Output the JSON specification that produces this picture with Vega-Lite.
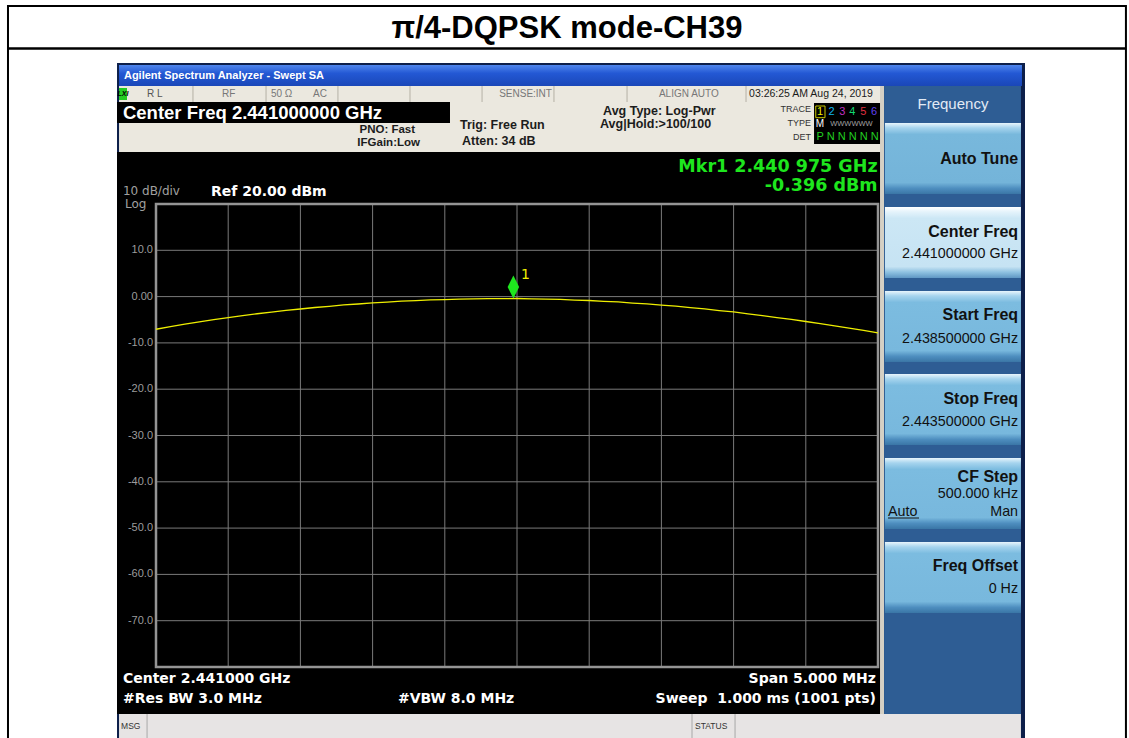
{
"$schema": "https://vega.github.io/schema/vega-lite/v6.json",
"width": 722, "height": 463,
"autosize": {"type": "none"},
"padding": {"left": 156, "top": 204, "right": 251, "bottom": 71},
"background": "white",
"config": {"view": {"stroke": null}},
"datasets": {
"one": [{"k": 0}],
"trace": [
{"freq_MHz": 2438.5, "dBm": -7.05},{"freq_MHz": 2438.6, "dBm": -6.50},{"freq_MHz": 2438.7, "dBm": -5.95},{"freq_MHz": 2438.8, "dBm": -5.46},{"freq_MHz": 2438.9, "dBm": -4.99},
{"freq_MHz": 2439.0, "dBm": -4.56},{"freq_MHz": 2439.1, "dBm": -4.12},{"freq_MHz": 2439.2, "dBm": -3.70},{"freq_MHz": 2439.3, "dBm": -3.36},{"freq_MHz": 2439.4, "dBm": -2.97},
{"freq_MHz": 2439.5, "dBm": -2.68},{"freq_MHz": 2439.6, "dBm": -2.35},{"freq_MHz": 2439.7, "dBm": -2.09},{"freq_MHz": 2439.8, "dBm": -1.80},{"freq_MHz": 2439.9, "dBm": -1.60},
{"freq_MHz": 2440.0, "dBm": -1.36},{"freq_MHz": 2440.1, "dBm": -1.19},{"freq_MHz": 2440.2, "dBm": -0.98},{"freq_MHz": 2440.3, "dBm": -0.87},{"freq_MHz": 2440.4, "dBm": -0.71},
{"freq_MHz": 2440.5, "dBm": -0.64},{"freq_MHz": 2440.6, "dBm": -0.53},{"freq_MHz": 2440.7, "dBm": -0.51},{"freq_MHz": 2440.8, "dBm": -0.44},{"freq_MHz": 2440.9, "dBm": -0.43},
{"freq_MHz": 2441.0, "dBm": -0.41},{"freq_MHz": 2441.1, "dBm": -0.49},{"freq_MHz": 2441.2, "dBm": -0.56},{"freq_MHz": 2441.3, "dBm": -0.61},{"freq_MHz": 2441.4, "dBm": -0.74},
{"freq_MHz": 2441.5, "dBm": -0.84},{"freq_MHz": 2441.6, "dBm": -1.02},{"freq_MHz": 2441.7, "dBm": -1.15},{"freq_MHz": 2441.8, "dBm": -1.39},{"freq_MHz": 2441.9, "dBm": -1.57},
{"freq_MHz": 2442.0, "dBm": -1.83},{"freq_MHz": 2442.1, "dBm": -2.06},{"freq_MHz": 2442.2, "dBm": -2.38},{"freq_MHz": 2442.3, "dBm": -2.64},{"freq_MHz": 2442.4, "dBm": -3.01},
{"freq_MHz": 2442.5, "dBm": -3.32},{"freq_MHz": 2442.6, "dBm": -3.74},{"freq_MHz": 2442.7, "dBm": -4.09},{"freq_MHz": 2442.8, "dBm": -4.52},{"freq_MHz": 2442.9, "dBm": -4.93},
{"freq_MHz": 2443.0, "dBm": -5.38},{"freq_MHz": 2443.1, "dBm": -5.84},{"freq_MHz": 2443.2, "dBm": -6.33},{"freq_MHz": 2443.3, "dBm": -6.82},{"freq_MHz": 2443.4, "dBm": -7.30},
{"freq_MHz": 2443.5, "dBm": -7.82}
],
"vgrid": [{"freq_MHz": 2439.0},{"freq_MHz": 2439.5},{"freq_MHz": 2440.0},{"freq_MHz": 2440.5},{"freq_MHz": 2441.0},{"freq_MHz": 2441.5},{"freq_MHz": 2442.0},{"freq_MHz": 2442.5},{"freq_MHz": 2443.0}],
"hgrid": [{"dBm": 10, "label": "10.0"},{"dBm": 0, "label": "0.00"},{"dBm": -10, "label": "-10.0"},{"dBm": -20, "label": "-20.0"},{"dBm": -30, "label": "-30.0"},{"dBm": -40, "label": "-40.0"},{"dBm": -50, "label": "-50.0"},{"dBm": -60, "label": "-60.0"},{"dBm": -70, "label": "-70.0"}],
"marker": [{"marker": "1", "freq_MHz": 2440.975, "dBm": -0.396}]
},
"layer": [
{"data":{"name":"one"},"mark":{"type":"rect","fillOpacity":0,"stroke":"#000000","strokeWidth":2},"encoding":{"x":{"datum":2437.475,"type":"quantitative","axis":null},"x2":{"datum":2445.217},"y":{"datum":62.765,"type":"quantitative","axis":null},"y2":{"datum":-100.086}}},
{"data":{"name":"one"},"mark":{"type":"rule","stroke":"#000000","strokeWidth":2.5},"encoding":{"x":{"datum":2437.475,"type":"quantitative","axis":null},"x2":{"datum":2445.217},"y":{"datum":53.585,"type":"quantitative","axis":null}}},
{"data":{"name":"one"},"mark":{"type":"text","text":"π/4-DQPSK mode-CH39","align":"center","baseline":"middle","font":"Liberation Sans","fontSize":31,"fontWeight":"bold","fill":"#000000"},"encoding":{"x":{"datum":2441.346,"type":"quantitative","axis":null},"y":{"datum":57.689,"type":"quantitative","axis":null}}},

{"data":{"name":"one"},"mark":{"type":"rect","fill":"#0d1f4a"},"encoding":{"x":{"datum":2438.230,"type":"quantitative","axis":null},"x2":{"datum":2444.518},"y":{"datum":50.454,"type":"quantitative","axis":null},"y2":{"datum":-95.335}}},
{"data":{"name":"one"},"mark":{"type":"rect","fill":{"gradient":"linear","x1":0,"y1":0,"x2":0,"y2":1,"stops":[{"offset":0,"color":"#4f86ec"},{"offset":0.4,"color":"#2358d4"},{"offset":1,"color":"#1a47b8"}]}},"encoding":{"x":{"datum":2438.244,"type":"quantitative","axis":null},"x2":{"datum":2444.497},"y":{"datum":50.022,"type":"quantitative","axis":null},"y2":{"datum":45.486}}},
{"data":{"name":"one"},"mark":{"type":"text","text":"Agilent Spectrum Analyzer - Swept SA","align":"left","baseline":"middle","font":"Liberation Sans","fontSize":11,"fontWeight":"bold","fill":"#ffffff"},"encoding":{"x":{"datum":2438.278,"type":"quantitative","axis":null},"y":{"datum":47.646,"type":"quantitative","axis":null}}},
{"data":{"name":"one"},"mark":{"type":"rect","fill":"#ebe8df"},"encoding":{"x":{"datum":2438.244,"type":"quantitative","axis":null},"x2":{"datum":2443.542},"y":{"datum":45.486,"type":"quantitative","axis":null},"y2":{"datum":31.231}}},

{"data":{"name":"one"},"mark":{"type":"rule","stroke":"#b5b1a6","strokeWidth":1},"encoding":{"x":{"datum":2438.756,"type":"quantitative","axis":null},"y":{"datum":45.486,"type":"quantitative","axis":null},"y2":{"datum":42.030}}},
{"data":{"name":"one"},"mark":{"type":"rule","stroke":"#b5b1a6","strokeWidth":1},"encoding":{"x":{"datum":2439.262,"type":"quantitative","axis":null},"y":{"datum":45.486,"type":"quantitative","axis":null},"y2":{"datum":42.030}}},
{"data":{"name":"one"},"mark":{"type":"rule","stroke":"#b5b1a6","strokeWidth":1},"encoding":{"x":{"datum":2439.760,"type":"quantitative","axis":null},"y":{"datum":45.486,"type":"quantitative","axis":null},"y2":{"datum":42.030}}},
{"data":{"name":"one"},"mark":{"type":"rule","stroke":"#b5b1a6","strokeWidth":1},"encoding":{"x":{"datum":2440.259,"type":"quantitative","axis":null},"y":{"datum":45.486,"type":"quantitative","axis":null},"y2":{"datum":42.030}}},
{"data":{"name":"one"},"mark":{"type":"rule","stroke":"#b5b1a6","strokeWidth":1},"encoding":{"x":{"datum":2440.758,"type":"quantitative","axis":null},"y":{"datum":45.486,"type":"quantitative","axis":null},"y2":{"datum":42.030}}},
{"data":{"name":"one"},"mark":{"type":"rule","stroke":"#b5b1a6","strokeWidth":1},"encoding":{"x":{"datum":2441.256,"type":"quantitative","axis":null},"y":{"datum":45.486,"type":"quantitative","axis":null},"y2":{"datum":42.030}}},
{"data":{"name":"one"},"mark":{"type":"rule","stroke":"#b5b1a6","strokeWidth":1},"encoding":{"x":{"datum":2441.762,"type":"quantitative","axis":null},"y":{"datum":45.486,"type":"quantitative","axis":null},"y2":{"datum":42.030}}},
{"data":{"name":"one"},"mark":{"type":"rule","stroke":"#b5b1a6","strokeWidth":1},"encoding":{"x":{"datum":2442.586,"type":"quantitative","axis":null},"y":{"datum":45.486,"type":"quantitative","axis":null},"y2":{"datum":42.030}}},

{"data":{"name":"one"},"mark":{"type":"rect","fill":"#22cc22"},"encoding":{"x":{"datum":2438.244,"type":"quantitative","axis":null},"x2":{"datum":2438.299},"y":{"datum":45.054,"type":"quantitative","axis":null},"y2":{"datum":42.462}}},
{"data":{"name":"one"},"mark":{"type":"text","text":"LXI","align":"center","baseline":"middle","font":"Liberation Sans","fontSize":7,"fontWeight":"bold","fontStyle":"italic","fill":"#000000"},"encoding":{"x":{"datum":2438.271,"type":"quantitative","axis":null},"y":{"datum":43.758,"type":"quantitative","axis":null}}},
{"data":{"name":"one"},"mark":{"type":"text","text":"R L","align":"left","baseline":"middle","font":"Liberation Sans","fontSize":10,"fill":"#555555"},"encoding":{"x":{"datum":2438.438,"type":"quantitative","axis":null},"y":{"datum":43.758,"type":"quantitative","axis":null}}},
{"data":{"name":"one"},"mark":{"type":"text","text":"RF","align":"left","baseline":"middle","font":"Liberation Sans","fontSize":10,"fill":"#777777"},"encoding":{"x":{"datum":2438.957,"type":"quantitative","axis":null},"y":{"datum":43.758,"type":"quantitative","axis":null}}},
{"data":{"name":"one"},"mark":{"type":"text","text":"50 Ω","align":"left","baseline":"middle","font":"Liberation Sans","fontSize":10,"fill":"#777777"},"encoding":{"x":{"datum":2439.296,"type":"quantitative","axis":null},"y":{"datum":43.758,"type":"quantitative","axis":null}}},
{"data":{"name":"one"},"mark":{"type":"text","text":"AC","align":"left","baseline":"middle","font":"Liberation Sans","fontSize":10,"fill":"#777777"},"encoding":{"x":{"datum":2439.587,"type":"quantitative","axis":null},"y":{"datum":43.758,"type":"quantitative","axis":null}}},
{"data":{"name":"one"},"mark":{"type":"text","text":"SENSE:INT","align":"right","baseline":"middle","font":"Liberation Sans","fontSize":10,"fill":"#777777"},"encoding":{"x":{"datum":2441.242,"type":"quantitative","axis":null},"y":{"datum":43.758,"type":"quantitative","axis":null}}},
{"data":{"name":"one"},"mark":{"type":"text","text":"ALIGN AUTO","align":"left","baseline":"middle","font":"Liberation Sans","fontSize":10,"fill":"#777777"},"encoding":{"x":{"datum":2441.983,"type":"quantitative","axis":null},"y":{"datum":43.758,"type":"quantitative","axis":null}}},
{"data":{"name":"one"},"mark":{"type":"text","text":"03:26:25 AM Aug 24, 2019","align":"left","baseline":"middle","font":"Liberation Sans","fontSize":10.5,"fill":"#1a1a1a"},"encoding":{"x":{"datum":2442.607,"type":"quantitative","axis":null},"y":{"datum":43.758,"type":"quantitative","axis":null}}},

{"data":{"name":"one"},"mark":{"type":"rect","fill":"#000000"},"encoding":{"x":{"datum":2438.230,"type":"quantitative","axis":null},"x2":{"datum":2440.536},"y":{"datum":42.030,"type":"quantitative","axis":null},"y2":{"datum":37.495}}},
{"data":{"name":"one"},"mark":{"type":"text","text":"Center Freq 2.441000000 GHz","align":"left","baseline":"middle","font":"Liberation Sans","fontSize":18.5,"fontWeight":"bold","fill":"#ffffff"},"encoding":{"x":{"datum":2438.271,"type":"quantitative","axis":null},"y":{"datum":39.762,"type":"quantitative","axis":null}}},
{"data":{"name":"one"},"mark":{"type":"text","text":"PNO: Fast","align":"right","baseline":"middle","font":"Liberation Sans","fontSize":11.5,"fontWeight":"bold","fill":"#1c1c1c"},"encoding":{"x":{"datum":2440.294,"type":"quantitative","axis":null},"y":{"datum":35.983,"type":"quantitative","axis":null}}},
{"data":{"name":"one"},"mark":{"type":"text","text":"IFGain:Low","align":"right","baseline":"middle","font":"Liberation Sans","fontSize":11.5,"fontWeight":"bold","fill":"#1c1c1c"},"encoding":{"x":{"datum":2440.328,"type":"quantitative","axis":null},"y":{"datum":33.175,"type":"quantitative","axis":null}}},
{"data":{"name":"one"},"mark":{"type":"text","text":"Trig: Free Run","align":"left","baseline":"middle","font":"Liberation Sans","fontSize":12.5,"fontWeight":"bold","fill":"#1c1c1c"},"encoding":{"x":{"datum":2440.605,"type":"quantitative","axis":null},"y":{"datum":37.063,"type":"quantitative","axis":null}}},
{"data":{"name":"one"},"mark":{"type":"text","text":"Atten: 34 dB","align":"left","baseline":"middle","font":"Liberation Sans","fontSize":12.5,"fontWeight":"bold","fill":"#1c1c1c"},"encoding":{"x":{"datum":2440.619,"type":"quantitative","axis":null},"y":{"datum":33.607,"type":"quantitative","axis":null}}},
{"data":{"name":"one"},"mark":{"type":"text","text":"Avg Type: Log-Pwr","align":"left","baseline":"middle","font":"Liberation Sans","fontSize":12.5,"fontWeight":"bold","fill":"#1c1c1c"},"encoding":{"x":{"datum":2441.596,"type":"quantitative","axis":null},"y":{"datum":40.151,"type":"quantitative","axis":null}}},
{"data":{"name":"one"},"mark":{"type":"text","text":"Avg|Hold:>100/100","align":"left","baseline":"middle","font":"Liberation Sans","fontSize":12.5,"fontWeight":"bold","fill":"#1c1c1c"},"encoding":{"x":{"datum":2441.575,"type":"quantitative","axis":null},"y":{"datum":37.279,"type":"quantitative","axis":null}}},
{"data":{"name":"one"},"mark":{"type":"text","text":"TRACE","align":"right","baseline":"middle","font":"Liberation Sans","fontSize":9,"fill":"#333333"},"encoding":{"x":{"datum":2443.036,"type":"quantitative","axis":null},"y":{"datum":40.454,"type":"quantitative","axis":null}}},
{"data":{"name":"one"},"mark":{"type":"text","text":"TYPE","align":"right","baseline":"middle","font":"Liberation Sans","fontSize":9,"fill":"#333333"},"encoding":{"x":{"datum":2443.036,"type":"quantitative","axis":null},"y":{"datum":37.430,"type":"quantitative","axis":null}}},
{"data":{"name":"one"},"mark":{"type":"text","text":"DET","align":"right","baseline":"middle","font":"Liberation Sans","fontSize":9,"fill":"#333333"},"encoding":{"x":{"datum":2443.036,"type":"quantitative","axis":null},"y":{"datum":34.406,"type":"quantitative","axis":null}}},
{"data":{"name":"one"},"mark":{"type":"rect","fill":"#000000"},"encoding":{"x":{"datum":2443.057,"type":"quantitative","axis":null},"x2":{"datum":2443.521},"y":{"datum":41.814,"type":"quantitative","axis":null},"y2":{"datum":32.959}}},
{"data":{"name":"one"},"mark":{"type":"rect","fillOpacity":0,"stroke":"#c8c800","strokeWidth":1},"encoding":{"x":{"datum":2443.069,"type":"quantitative","axis":null},"x2":{"datum":2443.133},"y":{"datum":41.166,"type":"quantitative","axis":null},"y2":{"datum":38.639}}},
{"data":{"name":"one"},"mark":{"type":"text","text":"1","align":"center","baseline":"middle","font":"Liberation Sans","fontSize":11,"fill":"#f0f000"},"encoding":{"x":{"datum":2443.098,"type":"quantitative","axis":null},"y":{"datum":39.806,"type":"quantitative","axis":null}}},
{"data":{"name":"one"},"mark":{"type":"text","text":"2","align":"center","baseline":"middle","font":"Liberation Sans","fontSize":11,"fill":"#10b8f0"},"encoding":{"x":{"datum":2443.179,"type":"quantitative","axis":null},"y":{"datum":39.806,"type":"quantitative","axis":null}}},
{"data":{"name":"one"},"mark":{"type":"text","text":"3","align":"center","baseline":"middle","font":"Liberation Sans","fontSize":11,"fill":"#c030c0"},"encoding":{"x":{"datum":2443.253,"type":"quantitative","axis":null},"y":{"datum":39.806,"type":"quantitative","axis":null}}},
{"data":{"name":"one"},"mark":{"type":"text","text":"4","align":"center","baseline":"middle","font":"Liberation Sans","fontSize":11,"fill":"#10d870"},"encoding":{"x":{"datum":2443.322,"type":"quantitative","axis":null},"y":{"datum":39.806,"type":"quantitative","axis":null}}},
{"data":{"name":"one"},"mark":{"type":"text","text":"5","align":"center","baseline":"middle","font":"Liberation Sans","fontSize":11,"fill":"#e03040"},"encoding":{"x":{"datum":2443.398,"type":"quantitative","axis":null},"y":{"datum":39.806,"type":"quantitative","axis":null}}},
{"data":{"name":"one"},"mark":{"type":"text","text":"6","align":"center","baseline":"middle","font":"Liberation Sans","fontSize":11,"fill":"#6040f0"},"encoding":{"x":{"datum":2443.472,"type":"quantitative","axis":null},"y":{"datum":39.806,"type":"quantitative","axis":null}}},
{"data":{"name":"one"},"mark":{"type":"text","text":"M","align":"center","baseline":"middle","font":"Liberation Sans","fontSize":10,"fill":"#ffffff"},"encoding":{"x":{"datum":2443.098,"type":"quantitative","axis":null},"y":{"datum":37.200,"type":"quantitative","axis":null}}},
{"data":{"name":"one"},"mark":{"type":"text","text":"WWWWWW","align":"center","baseline":"middle","font":"Liberation Sans","fontSize":7.5,"fill":"#a0a0a0"},"encoding":{"x":{"datum":2443.316,"type":"quantitative","axis":null},"y":{"datum":37.300,"type":"quantitative","axis":null}}},
{"data":{"name":"one"},"mark":{"type":"text","text":"P N N N N N","align":"center","baseline":"middle","font":"Liberation Sans","fontSize":11,"fill":"#20d020"},"encoding":{"x":{"datum":2443.289,"type":"quantitative","axis":null},"y":{"datum":34.406,"type":"quantitative","axis":null}}},

{"data":{"name":"one"},"mark":{"type":"rect","fill":"#000000"},"encoding":{"x":{"datum":2438.230,"type":"quantitative","axis":null},"x2":{"datum":2443.514},"y":{"datum":31.231,"type":"quantitative","axis":null},"y2":{"datum":-90.151}}},
{"data":{"name":"one"},"mark":{"type":"rect","fill":"#d5d0c4"},"encoding":{"x":{"datum":2443.514,"type":"quantitative","axis":null},"x2":{"datum":2443.542},"y":{"datum":45.486,"type":"quantitative","axis":null},"y2":{"datum":-90.151}}},
{"data":{"name":"one"},"mark":{"type":"rect","fill":"#2e5d94"},"encoding":{"x":{"datum":2443.542,"type":"quantitative","axis":null},"x2":{"datum":2444.490},"y":{"datum":45.486,"type":"quantitative","axis":null},"y2":{"datum":-90.151}}},
{"data":{"name":"one"},"mark":{"type":"text","text":"Frequency","align":"center","baseline":"middle","font":"Liberation Sans","fontSize":15,"fill":"#e2eaf4"},"encoding":{"x":{"datum":2444.019,"type":"quantitative","axis":null},"y":{"datum":41.598,"type":"quantitative","axis":null}}},

{"data":{"name":"one"},"mark":{"type":"rect","fill":{"gradient":"linear","x1":0,"y1":0,"x2":0,"y2":1,"stops":[{"offset":0,"color":"#e8f5fc"},{"offset":0.07,"color":"#a6d4ee"},{"offset":0.16,"color":"#78b8dc"},{"offset":0.84,"color":"#74b4d9"},{"offset":0.92,"color":"#4e8ebf"},{"offset":1,"color":"#3a76a6"}]}},"encoding":{"x":{"datum":2443.548,"type":"quantitative","axis":null},"x2":{"datum":2444.490},"y":{"datum":37.495,"type":"quantitative","axis":null},"y2":{"datum":22.160}}},
{"data":{"name":"one"},"mark":{"type":"rect","fill":{"gradient":"linear","x1":0,"y1":0,"x2":0,"y2":1,"stops":[{"offset":0,"color":"#ffffff"},{"offset":0.07,"color":"#e4f3fb"},{"offset":0.16,"color":"#cce7f5"},{"offset":0.84,"color":"#c6e3f3"},{"offset":0.92,"color":"#8dc0e0"},{"offset":1,"color":"#5f97c4"}]}},"encoding":{"x":{"datum":2443.548,"type":"quantitative","axis":null},"x2":{"datum":2444.490},"y":{"datum":19.352,"type":"quantitative","axis":null},"y2":{"datum":4.017}}},
{"data":{"name":"one"},"mark":{"type":"rect","fill":{"gradient":"linear","x1":0,"y1":0,"x2":0,"y2":1,"stops":[{"offset":0,"color":"#e8f5fc"},{"offset":0.07,"color":"#a6d4ee"},{"offset":0.16,"color":"#7cbce0"},{"offset":0.84,"color":"#78b8dd"},{"offset":0.92,"color":"#4e8ebf"},{"offset":1,"color":"#3a76a6"}]}},"encoding":{"x":{"datum":2443.548,"type":"quantitative","axis":null},"x2":{"datum":2444.490},"y":{"datum":1.210,"type":"quantitative","axis":null},"y2":{"datum":-14.125}}},
{"data":{"name":"one"},"mark":{"type":"rect","fill":{"gradient":"linear","x1":0,"y1":0,"x2":0,"y2":1,"stops":[{"offset":0,"color":"#e8f5fc"},{"offset":0.07,"color":"#a6d4ee"},{"offset":0.16,"color":"#7cbce0"},{"offset":0.84,"color":"#78b8dd"},{"offset":0.92,"color":"#4e8ebf"},{"offset":1,"color":"#3a76a6"}]}},"encoding":{"x":{"datum":2443.548,"type":"quantitative","axis":null},"x2":{"datum":2444.490},"y":{"datum":-16.717,"type":"quantitative","axis":null},"y2":{"datum":-32.052}}},
{"data":{"name":"one"},"mark":{"type":"rect","fill":{"gradient":"linear","x1":0,"y1":0,"x2":0,"y2":1,"stops":[{"offset":0,"color":"#e8f5fc"},{"offset":0.07,"color":"#a6d4ee"},{"offset":0.16,"color":"#7cbce0"},{"offset":0.84,"color":"#78b8dd"},{"offset":0.92,"color":"#4e8ebf"},{"offset":1,"color":"#3a76a6"}]}},"encoding":{"x":{"datum":2443.548,"type":"quantitative","axis":null},"x2":{"datum":2444.490},"y":{"datum":-34.860,"type":"quantitative","axis":null},"y2":{"datum":-50.194}}},
{"data":{"name":"one"},"mark":{"type":"rect","fill":{"gradient":"linear","x1":0,"y1":0,"x2":0,"y2":1,"stops":[{"offset":0,"color":"#e8f5fc"},{"offset":0.07,"color":"#a6d4ee"},{"offset":0.16,"color":"#7cbce0"},{"offset":0.84,"color":"#78b8dd"},{"offset":0.92,"color":"#4e8ebf"},{"offset":1,"color":"#3a76a6"}]}},"encoding":{"x":{"datum":2443.548,"type":"quantitative","axis":null},"x2":{"datum":2444.490},"y":{"datum":-53.002,"type":"quantitative","axis":null},"y2":{"datum":-68.337}}},

{"data":{"name":"one"},"mark":{"type":"text","text":"Auto Tune","align":"right","baseline":"middle","font":"Liberation Sans","fontSize":16,"fontWeight":"bold","fill":"#111111"},"encoding":{"x":{"datum":2444.470,"type":"quantitative","axis":null},"y":{"datum":29.719,"type":"quantitative","axis":null}}},
{"data":{"name":"one"},"mark":{"type":"text","text":"Center Freq","align":"right","baseline":"middle","font":"Liberation Sans","fontSize":16,"fontWeight":"bold","fill":"#111111"},"encoding":{"x":{"datum":2444.470,"type":"quantitative","axis":null},"y":{"datum":14.017,"type":"quantitative","axis":null}}},
{"data":{"name":"one"},"mark":{"type":"text","text":"2.441000000 GHz","align":"right","baseline":"middle","font":"Liberation Sans","fontSize":14.3,"fill":"#111111"},"encoding":{"x":{"datum":2444.470,"type":"quantitative","axis":null},"y":{"datum":9.201,"type":"quantitative","axis":null}}},
{"data":{"name":"one"},"mark":{"type":"text","text":"Start Freq","align":"right","baseline":"middle","font":"Liberation Sans","fontSize":16,"fontWeight":"bold","fill":"#111111"},"encoding":{"x":{"datum":2444.470,"type":"quantitative","axis":null},"y":{"datum":-3.974,"type":"quantitative","axis":null}}},
{"data":{"name":"one"},"mark":{"type":"text","text":"2.438500000 GHz","align":"right","baseline":"middle","font":"Liberation Sans","fontSize":14.3,"fill":"#111111"},"encoding":{"x":{"datum":2444.470,"type":"quantitative","axis":null},"y":{"datum":-9.158,"type":"quantitative","axis":null}}},
{"data":{"name":"one"},"mark":{"type":"text","text":"Stop Freq","align":"right","baseline":"middle","font":"Liberation Sans","fontSize":16,"fontWeight":"bold","fill":"#111111"},"encoding":{"x":{"datum":2444.470,"type":"quantitative","axis":null},"y":{"datum":-22.117,"type":"quantitative","axis":null}}},
{"data":{"name":"one"},"mark":{"type":"text","text":"2.443500000 GHz","align":"right","baseline":"middle","font":"Liberation Sans","fontSize":14.3,"fill":"#111111"},"encoding":{"x":{"datum":2444.470,"type":"quantitative","axis":null},"y":{"datum":-27.084,"type":"quantitative","axis":null}}},
{"data":{"name":"one"},"mark":{"type":"text","text":"CF Step","align":"right","baseline":"middle","font":"Liberation Sans","fontSize":16,"fontWeight":"bold","fill":"#111111"},"encoding":{"x":{"datum":2444.470,"type":"quantitative","axis":null},"y":{"datum":-38.963,"type":"quantitative","axis":null}}},
{"data":{"name":"one"},"mark":{"type":"text","text":"500.000 kHz","align":"right","baseline":"middle","font":"Liberation Sans","fontSize":14.3,"fill":"#111111"},"encoding":{"x":{"datum":2444.470,"type":"quantitative","axis":null},"y":{"datum":-42.635,"type":"quantitative","axis":null}}},
{"data":{"name":"one"},"mark":{"type":"text","text":"Man","align":"right","baseline":"middle","font":"Liberation Sans","fontSize":14.3,"fill":"#111111"},"encoding":{"x":{"datum":2444.470,"type":"quantitative","axis":null},"y":{"datum":-46.523,"type":"quantitative","axis":null}}},
{"data":{"name":"one"},"mark":{"type":"text","text":"Auto","align":"left","baseline":"middle","font":"Liberation Sans","fontSize":14.3,"fill":"#111111"},"encoding":{"x":{"datum":2443.569,"type":"quantitative","axis":null},"y":{"datum":-46.523,"type":"quantitative","axis":null}}},
{"data":{"name":"one"},"mark":{"type":"rule","stroke":"#111111","strokeWidth":1.2},"encoding":{"x":{"datum":2443.569,"type":"quantitative","axis":null},"x2":{"datum":2443.784},"y":{"datum":-47.819,"type":"quantitative","axis":null}}},
{"data":{"name":"one"},"mark":{"type":"text","text":"Freq Offset","align":"right","baseline":"middle","font":"Liberation Sans","fontSize":16,"fontWeight":"bold","fill":"#111111"},"encoding":{"x":{"datum":2444.470,"type":"quantitative","axis":null},"y":{"datum":-58.186,"type":"quantitative","axis":null}}},
{"data":{"name":"one"},"mark":{"type":"text","text":"0 Hz","align":"right","baseline":"middle","font":"Liberation Sans","fontSize":14.3,"fill":"#111111"},"encoding":{"x":{"datum":2444.470,"type":"quantitative","axis":null},"y":{"datum":-63.153,"type":"quantitative","axis":null}}},

{"data":{"name":"one"},"mark":{"type":"rect","fill":"#e7e4e4"},"encoding":{"x":{"datum":2438.244,"type":"quantitative","axis":null},"x2":{"datum":2444.490},"y":{"datum":-90.151,"type":"quantitative","axis":null},"y2":{"datum":-95.335}}},
{"data":{"name":"one"},"mark":{"type":"rule","stroke":"#a8a8a8","strokeWidth":1},"encoding":{"x":{"datum":2438.438,"type":"quantitative","axis":null},"y":{"datum":-90.151,"type":"quantitative","axis":null},"y2":{"datum":-95.335}}},
{"data":{"name":"one"},"mark":{"type":"rule","stroke":"#a8a8a8","strokeWidth":1},"encoding":{"x":{"datum":2442.212,"type":"quantitative","axis":null},"y":{"datum":-90.151,"type":"quantitative","axis":null},"y2":{"datum":-95.335}}},
{"data":{"name":"one"},"mark":{"type":"rule","stroke":"#a8a8a8","strokeWidth":1},"encoding":{"x":{"datum":2442.510,"type":"quantitative","axis":null},"y":{"datum":-90.151,"type":"quantitative","axis":null},"y2":{"datum":-95.335}}},
{"data":{"name":"one"},"mark":{"type":"text","text":"MSG","align":"left","baseline":"middle","font":"Liberation Sans","fontSize":8.5,"fill":"#333333"},"encoding":{"x":{"datum":2438.258,"type":"quantitative","axis":null},"y":{"datum":-92.743,"type":"quantitative","axis":null}}},
{"data":{"name":"one"},"mark":{"type":"text","text":"STATUS","align":"left","baseline":"middle","font":"Liberation Sans","fontSize":8.5,"fill":"#333333"},"encoding":{"x":{"datum":2442.233,"type":"quantitative","axis":null},"y":{"datum":-92.743,"type":"quantitative","axis":null}}},

{"data":{"name":"vgrid"},"mark":{"type":"rule","stroke":"#7a7a7a","strokeWidth":1},"encoding":{"x":{"field":"freq_MHz","type":"quantitative","axis":null},"y":{"datum":20,"type":"quantitative","axis":null},"y2":{"datum":-80}}},
{"data":{"name":"hgrid"},"mark":{"type":"rule","stroke":"#7a7a7a","strokeWidth":1},"encoding":{"y":{"field":"dBm","type":"quantitative","axis":null},"x":{"datum":2438.5,"type":"quantitative","axis":null},"x2":{"datum":2443.5}}},
{"data":{"name":"hgrid"},"mark":{"type":"text","align":"right","baseline":"middle","font":"Liberation Sans","fontSize":11,"fill":"#9c9c9c","dx":-3},"encoding":{"y":{"field":"dBm","type":"quantitative","axis":null},"x":{"datum":2438.5,"type":"quantitative","axis":null},"text":{"field":"label"}}},
{"data":{"name":"one"},"mark":{"type":"rect","fillOpacity":0,"stroke":"#949494","strokeWidth":2.5},"encoding":{"x":{"datum":2438.5,"type":"quantitative","axis":null},"x2":{"datum":2443.5},"y":{"datum":20,"type":"quantitative","axis":null},"y2":{"datum":-80}}},

{"data":{"name":"trace"},"mark":{"type":"line","stroke":"#eeee00","strokeWidth":1.3},"encoding":{
"x":{"field":"freq_MHz","type":"quantitative","scale":{"domain":[2438.5,2443.5],"nice":false,"zero":false},"axis":null},
"y":{"field":"dBm","type":"quantitative","scale":{"domain":[-80,20],"nice":false,"zero":false},"axis":null}}},
{"data":{"name":"marker"},"mark":{"type":"point","shape":"M0,-2L0.5,-1L0,0L-0.5,-1Z","filled":true,"fill":"#1ee61e","size":529,"opacity":1,"strokeWidth":0},"encoding":{"x":{"field":"freq_MHz","type":"quantitative","axis":null},"y":{"field":"dBm","type":"quantitative","axis":null}}},
{"data":{"name":"marker"},"mark":{"type":"text","dx":12,"dy":-23,"align":"center","baseline":"middle","font":"DejaVu Sans","fontSize":14,"fill":"#f0f000"},"encoding":{"x":{"field":"freq_MHz","type":"quantitative","axis":null},"y":{"field":"dBm","type":"quantitative","axis":null},"text":{"field":"marker"}}},

{"data":{"name":"one"},"mark":{"type":"text","text":"10 dB/div","align":"left","baseline":"middle","font":"DejaVu Sans","fontSize":12,"fill":"#a0a0a0"},"encoding":{"x":{"datum":2438.271,"type":"quantitative","axis":null},"y":{"datum":22.700,"type":"quantitative","axis":null}}},
{"data":{"name":"one"},"mark":{"type":"text","text":"Log","align":"left","baseline":"middle","font":"DejaVu Sans","fontSize":12,"fill":"#a0a0a0"},"encoding":{"x":{"datum":2438.285,"type":"quantitative","axis":null},"y":{"datum":20.050,"type":"quantitative","axis":null}}},
{"data":{"name":"one"},"mark":{"type":"text","text":"Ref 20.00 dBm","align":"left","baseline":"middle","font":"DejaVu Sans","fontSize":14,"fontWeight":"bold","fill":"#ffffff"},"encoding":{"x":{"datum":2438.881,"type":"quantitative","axis":null},"y":{"datum":22.592,"type":"quantitative","axis":null}}},
{"data":{"name":"one"},"mark":{"type":"text","text":"Mkr1 2.440 975 GHz","align":"right","baseline":"middle","font":"DejaVu Sans","fontSize":17.5,"fontWeight":"bold","fill":"#1ee61e"},"encoding":{"x":{"datum":2443.497,"type":"quantitative","axis":null},"y":{"datum":28.056,"type":"quantitative","axis":null}}},
{"data":{"name":"one"},"mark":{"type":"text","text":"-0.396 dBm","align":"right","baseline":"middle","font":"DejaVu Sans","fontSize":17.5,"fontWeight":"bold","fill":"#1ee61e"},"encoding":{"x":{"datum":2443.497,"type":"quantitative","axis":null},"y":{"datum":23.888,"type":"quantitative","axis":null}}},
{"data":{"name":"one"},"mark":{"type":"text","text":"Center 2.441000 GHz","align":"left","baseline":"middle","font":"DejaVu Sans","fontSize":14,"fontWeight":"bold","fill":"#ffffff"},"encoding":{"x":{"datum":2438.271,"type":"quantitative","axis":null},"y":{"datum":-82.592,"type":"quantitative","axis":null}}},
{"data":{"name":"one"},"mark":{"type":"text","text":"#Res BW 3.0 MHz","align":"left","baseline":"middle","font":"DejaVu Sans","fontSize":14,"fontWeight":"bold","fill":"#ffffff"},"encoding":{"x":{"datum":2438.271,"type":"quantitative","axis":null},"y":{"datum":-86.911,"type":"quantitative","axis":null}}},
{"data":{"name":"one"},"mark":{"type":"text","text":"#VBW 8.0 MHz","align":"left","baseline":"middle","font":"DejaVu Sans","fontSize":14,"fontWeight":"bold","fill":"#ffffff"},"encoding":{"x":{"datum":2440.176,"type":"quantitative","axis":null},"y":{"datum":-86.911,"type":"quantitative","axis":null}}},
{"data":{"name":"one"},"mark":{"type":"text","text":"Span 5.000 MHz","align":"right","baseline":"middle","font":"DejaVu Sans","fontSize":14,"fontWeight":"bold","fill":"#ffffff"},"encoding":{"x":{"datum":2443.486,"type":"quantitative","axis":null},"y":{"datum":-82.592,"type":"quantitative","axis":null}}},
{"data":{"name":"one"},"mark":{"type":"text","text":"Sweep \u00a01.000 ms (1001 pts)","align":"right","baseline":"middle","font":"DejaVu Sans","fontSize":14,"fontWeight":"bold","fill":"#ffffff"},"encoding":{"x":{"datum":2443.486,"type":"quantitative","axis":null},"y":{"datum":-86.911,"type":"quantitative","axis":null}}}
]
}
